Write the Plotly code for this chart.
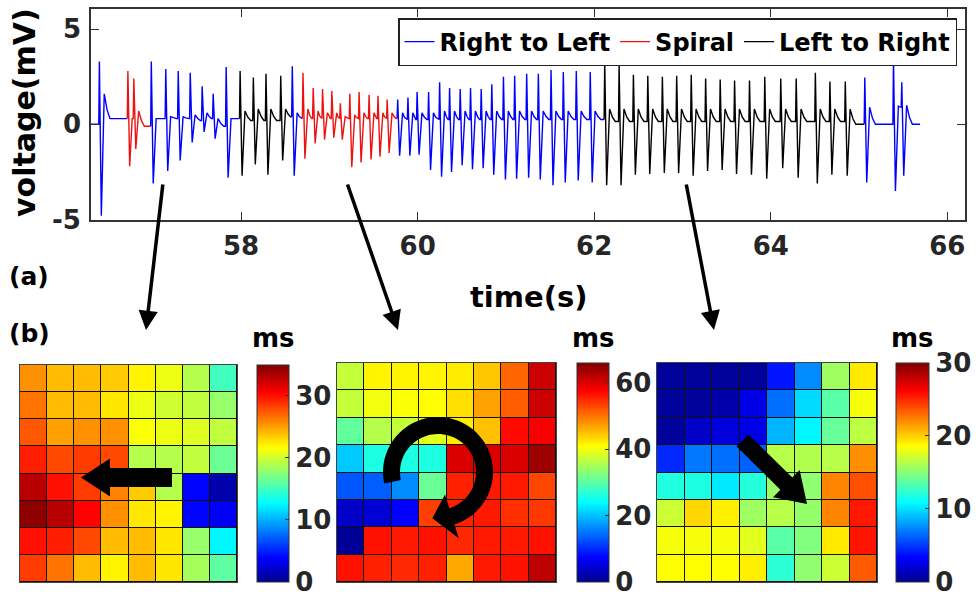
import math
import plotly.graph_objects as go

W, H = 976, 596
FONT = "DejaVu Sans, Verdana, sans-serif"


def px(x):
    return x / W


def py(y):
    return 1 - y / H


# ---------------- data: voltage trace (one entry per activation) ----------------
trace_start = 56.30
trace_end = 65.69
beat_time = [
    56.395, 56.718, 56.785, 56.983, 57.147, 57.288, 57.424, 57.559, 57.684, 57.831,
    57.989, 58.139, 58.282, 58.449,
    58.580,
    58.701, 58.817, 58.923, 59.028, 59.124, 59.232, 59.337, 59.450, 59.551, 59.655,
    59.774, 59.890, 59.994, 60.124, 60.249, 60.362, 60.482, 60.599, 60.720, 60.840,
    60.972, 61.099, 61.235, 61.367, 61.511, 61.650, 61.797, 61.955,
    62.119, 62.282, 62.444, 62.607, 62.772, 62.934, 63.099, 63.262, 63.427, 63.590,
    63.759, 63.932, 64.113, 64.288, 64.505, 64.670, 64.844,
    65.065, 65.390, 65.484,
]
beat_peak = [
    3.3, 2.8, 2.4, 3.3, 2.9, 2.8, 2.7, 2.0, 1.6, 3.0,
    2.8, 2.45, 2.65, 2.55,
    3.05,
    2.7, 1.9, 1.85, 1.75, 1.1, 1.6, 1.7, 1.55, 1.5, 1.3,
    1.3, 1.4, 1.7, 1.7, 2.2, 1.9, 1.85, 1.9, 1.85, 2.1,
    2.5, 2.55, 2.65, 2.65, 2.85, 2.75, 2.8, 2.75,
    3.3, 3.1, 2.6, 2.55, 2.5, 2.55, 2.6, 2.4, 2.35, 2.3,
    2.3, 2.5, 2.4, 2.4, 2.7, 2.25, 2.25,
    2.45, 3.4, 2.2,
]
beat_trough = [
    -4.8, -2.2, -1.3, -3.1, -2.45, -1.9, -0.95, -0.4, -0.75, -2.8,
    -2.7, -2.1, -2.65, -1.9,
    -2.7,
    -1.8, -1.0, -0.8, -0.7, -0.8, -2.25, -2.0, -1.85, -1.7, -1.5,
    -1.65, -1.65, -1.6, -2.4, -2.75, -2.5, -2.15, -2.35, -2.3, -2.65,
    -2.9, -2.85, -2.8, -2.9, -3.2, -3.05, -2.95, -3.05,
    -3.2, -3.2, -2.65, -2.6, -2.55, -2.55, -2.7, -2.45, -2.4, -2.6,
    -2.65, -2.85, -2.3, -2.8, -3.1, -2.65, -2.7,
    -3.05, -3.5, -2.7,
]
beat_bump = [
    1.6, 0.3, 0.7, 0.3, 0.4, 0.4, 0.5, 0.6, 0.3, 0.3,
    0.7, 0.8, 0.8, 0.8,
    0.6,
    0.8, 0.7, 0.6, 0.6, 0.4, 0.5, 0.6, 0.6, 0.6, 0.6,
    0.6, 0.6, 0.6, 0.6, 0.7, 0.7, 0.7, 0.7, 0.7, 0.7,
    0.7, 0.7, 0.7, 0.7, 0.7, 0.7, 0.7, 0.7,
    0.8, 0.8, 0.8, 0.8, 0.8, 0.8, 0.8, 0.8, 0.8, 0.8,
    0.8, 0.8, 0.8, 0.8, 0.8, 0.8, 0.8,
    0.9, 0.95, 1.0,
]
beat_base = [
    0.3, 0.3, -0.1, 0.3, 0.3, 0.3, 0.2, 0.3, -0.1, 0.3,
    0.2, 0.2, 0.2, 0.4,
    0.3,
    0.3, 0.3, 0.3, 0.3, 0.3, 0.3, 0.3, 0.3, 0.3, 0.3,
    0.25, 0.25, 0.25, 0.25, 0.25, 0.25, 0.25, 0.25, 0.25, 0.25,
    0.25, 0.25, 0.25, 0.25, 0.25, 0.25, 0.25, 0.25,
    0.15, 0.15, 0.15, 0.15, 0.15, 0.15, 0.15, 0.15, 0.15, 0.15,
    0.15, 0.15, 0.15, 0.15, 0.15, 0.15, 0.0,
    0.0, 0.9, 0.0,
]
beat_pattern = (
    ["Right to Left", "Spiral", "Spiral"] + ["Right to Left"] * 7
    + ["Left to Right"] * 4 + ["Right to Left"]
    + ["Spiral"] * 10 + ["Right to Left"] * 18
    + ["Left to Right"] * 17 + ["Right to Left"] * 3
)
pattern_names = ["Right to Left", "Spiral", "Left to Right"]
pattern_colors = ["#0000FF", "#EE1111", "#000000"]

# ---------------- data: activation maps (rows top to bottom, ms) ----------------
map1 = [
    [25.5, 24, 24, 23.5, 22, 21, 19, 15],
    [26.5, 24, 24, 22.5, 21, 20, 19.5, 18],
    [27.5, 25, 25.5, 25.5, 21.5, 21, 20.5, 19.5],
    [29.5, 28, 28.5, 28, 19, 19, 19.5, 16.5],
    [33, 30, 28.5, 26, 23.5, 19, 4, 1],
    [34.5, 33, 30.5, 25.5, 22.5, 22, 4, 3.5],
    [30, 29.5, 28, 24, 24, 22.5, 18, 12.5],
    [28.5, 26.5, 24, 22, 24, 22.5, 18.5, 16],
]
map2 = [
    [37, 41.5, 41.5, 41.5, 42, 44.5, 51, 61],
    [37, 40, 40.5, 41, 43, 47, 51.5, 61],
    [30.5, 36, 37, 39, 42, 45, 57, 58],
    [20.5, 26, 26, 26, 60, 60, 60, 64],
    [13, 13.5, 16.5, 31, 55.5, 56, 56, 53],
    [3.7, 4.5, 7.3, 53.5, 55.5, 56, 54.5, 54],
    [0.5, 56.5, 56, 56.5, 55, 56, 56, 56.5],
    [56.5, 55.5, 55, 55.5, 46.5, 56, 56.5, 62],
]
map3 = [
    [0.3, 0.3, 0.3, 0.3, 3.9, 7.5, 15.7, 19.2],
    [0.3, 0.3, 0.8, 2.6, 6.6, 9.9, 13.6, 18.3],
    [0.3, 1.7, 2.3, 2.6, 8.7, 10.7, 14, 16.6],
    [4.5, 6.9, 6.6, 6.2, 16.4, 16.2, 16.4, 21.9],
    [11.9, 11.8, 10.3, 12, 15.5, 15.2, 22.2, 23.8],
    [17, 19.8, 19, 15.7, 16.4, 15.4, 22.2, 25.5],
    [18.3, 18.3, 18.3, 17.7, 13.6, 14.8, 19.2, 25.6],
    [18.6, 18.6, 18.6, 19, 12.2, 15.2, 17, 23.5],
]
map_zmax = [35, 66, 30]
map_ticks = [[0, 10, 20, 30], [0, 20, 40, 60], [0, 10, 20, 30]]
x_ticks = [58, 60, 62, 64, 66]
y_ticks = [-5, 0, 5]

# ---------------- build trace polyline ----------------
pts = [(trace_start, 0.0, beat_pattern[0])]
n = len(beat_time)
for i in range(n):
    t = beat_time[i]
    d = (beat_time[i + 1] - t) if i + 1 < n else (trace_end - t)
    prev_base = beat_base[i - 1] if i > 0 else 0.0
    lab = beat_pattern[i]
    td = min(0.022, 0.3 * d)
    bd = min(0.055, 0.6 * d)
    ed = min(0.12, 0.85 * d)
    pts.append((t - 0.007, prev_base, lab))
    pts.append((t, beat_peak[i], lab))
    pts.append((t + td, beat_trough[i], lab))
    pts.append((t + bd, beat_bump[i], lab))
    pts.append((t + (bd + ed) / 2, beat_base[i] + 0.35 * (beat_bump[i] - beat_base[i]), lab))
    pts.append((t + ed, beat_base[i], lab))
pts.append((trace_end, 0.0, beat_pattern[-1]))

runs = []
cur_lab = pts[0][2]
cur = [pts[0]]
for p in pts[1:]:
    if p[2] != cur_lab:
        cur.append(p)
        runs.append((cur_lab, cur))
        cur = [p]
        cur_lab = p[2]
    else:
        cur.append(p)
runs.append((cur_lab, cur))

fig = go.Figure()
for name, color in zip(pattern_names, pattern_colors):
    xs, ys = [], []
    for lab, r in runs:
        if lab == name:
            xs += [p[0] for p in r] + [None]
            ys += [p[1] for p in r] + [None]
    fig.add_trace(go.Scatter(x=xs, y=ys, mode="lines", name=name,
                             line=dict(color=color, width=1.4),
                             xaxis="x", yaxis="y", connectgaps=False))

jet = [[0.0, "rgb(0,0,143)"], [0.111, "rgb(0,0,255)"], [0.365, "rgb(0,255,255)"],
       [0.619, "rgb(255,255,0)"], [0.873, "rgb(255,0,0)"], [1.0, "rgb(128,0,0)"]]

hm_x = [(20, 237, 365, 582), (337, 556, 363, 582), (657, 877, 363, 582)]
cb_x = [(257, 289, 365, 582), (577, 609, 363, 582), (896, 929, 363, 582)]
maps = [map1, map2, map3]
tickfont = dict(family=FONT, size=26, color="#262626", weight="bold")

layout_axes = {}
shapes = []
for k in range(3):
    ax = k + 2
    x0, x1, y0, y1 = hm_x[k]
    c0, c1, cy0, cy1 = cb_x[k]
    fig.add_trace(go.Heatmap(
        z=maps[k], x=list(range(8)), y=list(range(8)),
        xaxis=f"x{ax}", yaxis=f"y{ax}", colorscale=jet, zmin=-0.02, zmax=map_zmax[k],
        xgap=1, ygap=1, showlegend=False, hoverinfo="skip",
        colorbar=dict(x=px(c0), xanchor="left", xpad=0, y=py(cy1), yanchor="bottom",
                      ypad=0, len=(cy1 - cy0) / H, lenmode="fraction",
                      thickness=c1 - c0, thicknessmode="pixels",
                      outlinewidth=1, outlinecolor="#333",
                      tickvals=map_ticks[k], ticktext=[str(v) for v in map_ticks[k]],
                      ticks="inside", ticklen=4, tickcolor="#333",
                      ticklabeloverflow="allow",
                      tickfont=tickfont),
    ))
    layout_axes[f"xaxis{ax}"] = dict(domain=[px(x0), px(x1)], range=[-0.5, 7.5], anchor=f"y{ax}",
                                     showticklabels=False, ticks="", showgrid=False,
                                     zeroline=False, showline=True, mirror=True,
                                     linecolor="#444", linewidth=1)
    layout_axes[f"yaxis{ax}"] = dict(domain=[py(y1), py(y0)], range=[7.5, -0.5], anchor=f"x{ax}",
                                     showticklabels=False, ticks="", showgrid=False,
                                     zeroline=False, showline=True, mirror=True,
                                     linecolor="#444", linewidth=1)
    shapes.append(dict(type="rect", xref=f"x{ax}", yref=f"y{ax}", x0=-0.5, x1=7.5,
                       y0=-0.5, y1=7.5, fillcolor="#111", line=dict(width=0), layer="below"))


def path_from_px(points):
    return "M " + " L ".join(f"{px(x):.5f},{py(y):.5f}" for x, y in points) + " Z"


def block_arrow(tail, tip, shaft_hw, head_len, head_hw):
    (x0, y0), (x1, y1) = tail, tip
    dx, dy = x1 - x0, y1 - y0
    L = math.hypot(dx, dy)
    ux, uy = dx / L, dy / L
    nx, ny = -uy, ux
    bx, by = x1 - ux * head_len, y1 - uy * head_len
    p = [(x0 + nx * shaft_hw, y0 + ny * shaft_hw), (bx + nx * shaft_hw, by + ny * shaft_hw),
         (bx + nx * head_hw, by + ny * head_hw), (x1, y1),
         (bx - nx * head_hw, by - ny * head_hw), (bx - nx * shaft_hw, by - ny * shaft_hw),
         (x0 - nx * shaft_hw, y0 - ny * shaft_hw)]
    return path_from_px(p)


def ring_arrow(cx, cy, r, hw, a0, a1, head_hw, tip_a):
    def pt(rad, a):
        return (cx + rad * math.cos(math.radians(a)), cy - rad * math.sin(math.radians(a)))
    steps = 60
    angs = [a0 + (a1 - a0) * i / steps for i in range(steps + 1)]
    p = [pt(r + hw, a) for a in angs]
    p += [pt(r + head_hw, a1), pt(r, tip_a), pt(r - head_hw, a1)]
    p += [pt(r - hw, a) for a in reversed(angs)]
    return path_from_px(p)


shapes.append(dict(type="path", xref="paper", yref="paper", fillcolor="black",
                   line=dict(width=0), path=block_arrow((172, 477.5), (81, 477.5), 9.5, 29, 19)))
shapes.append(dict(type="path", xref="paper", yref="paper", fillcolor="black",
                   line=dict(width=0), path=block_arrow((742.5, 440.5), (807, 504), 8.5, 29, 19)))
shapes.append(dict(type="path", xref="paper", yref="paper", fillcolor="black",
                   line=dict(width=0), path=ring_arrow(438, 472, 46.5, 8.5, 192, -72.6, 23, -97)))

afont = dict(family=FONT, color="black", weight="bold")


def label(x, y, text, size, angle=0, color="black"):
    return dict(x=px(x), y=py(y), xref="paper", yref="paper", text=text, showarrow=False,
                xanchor="center", yanchor="middle", textangle=angle,
                font=dict(afont, size=size, color=color))


annotations = [
    label(29, 276, "(a)", 25),
    label(29, 333, "(b)", 25),
    label(528, 297, "time(s)", 29),
    label(25, 113, "voltage(mV)", 30, -90),
]
# y tick labels of the voltage axis, placed through the y axis scale
for v in y_ticks:
    annotations.append(dict(x=px(83), y=v, xref="paper", yref="y", text=str(v),
                            showarrow=False, xanchor="right", yanchor="middle",
                            font=dict(family=FONT, size=26, color="#262626", weight="bold")))
for cx in (273, 593, 912):
    annotations.append(label(cx, 338, "ms", 26))
for tip, tail in [((146, 330), (163, 183)), ((398, 330), (347, 183)), ((714, 330), (686, 183))]:
    annotations.append(dict(x=px(tip[0]), y=py(tip[1]), xref="paper", yref="paper", text="",
                            showarrow=True, ax=tail[0] - tip[0], ay=tail[1] - tip[1],
                            arrowhead=2, arrowsize=1.1, arrowwidth=3.5, arrowcolor="black",
                            standoff=0, startstandoff=0))

fig.update_layout(
    width=W, height=H,
    margin=dict(l=0, r=0, t=0, b=0, autoexpand=False),
    paper_bgcolor="white", plot_bgcolor="white",
    font=dict(family=FONT, color="#262626"),
    xaxis=dict(domain=[px(91), px(965)], range=[56.3, 66.2], anchor="y",
               tickvals=x_ticks, ticks="inside", ticklen=8, tickwidth=1.2, tickcolor="#333",
               showline=True, mirror="ticks", linecolor="#333", linewidth=1.5,
               showgrid=False, zeroline=False, ticklabelstandoff=2,
               tickfont=dict(family=FONT, size=26, color="#262626", weight="bold")),
    yaxis=dict(domain=[py(220), py(9)], range=[-5.02, 6.05], anchor="x",
               tickvals=y_ticks, ticks="inside", ticklen=8, tickwidth=1.2, tickcolor="#333",
               showline=True, mirror="ticks", linecolor="#333", linewidth=1.5,
               showgrid=False, zeroline=False, showticklabels=False),
    legend=dict(orientation="h", x=px(957), xanchor="right", y=py(18), yanchor="top",
                bgcolor="white", bordercolor="#222", borderwidth=1.5, itemwidth=30,
                font=dict(family=FONT, size=24, color="black", weight="bold"),
                tracegroupgap=0),
    shapes=shapes,
    annotations=annotations,
    **layout_axes,
)

fig.write_html("out.html", config={"displayModeBar": False},
               post_script="document.body.style.margin='0px';")
